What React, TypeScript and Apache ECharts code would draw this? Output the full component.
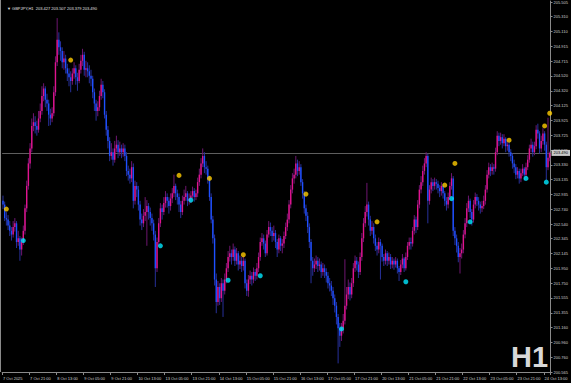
import React, { useEffect, useRef } from "react";
import * as echarts from "echarts";

// GBPJPY H1 bars (7 Oct 2025 05:00 .. 24 Oct 2025 16:00)
const firstOpen = 202.85;
const closes = [
  202.80,202.62,202.60,202.52,202.45,202.40,202.50,202.55,202.30,202.35,
  202.20,202.30,202.45,202.75,203.05,203.35,203.55,203.85,203.90,203.85,
  203.80,203.95,204.05,204.25,204.35,204.20,204.15,204.00,203.95,204.02,
  204.30,204.70,205.00,204.90,204.85,204.70,204.75,204.62,204.55,204.50,
  204.45,204.55,204.62,204.50,204.45,204.60,204.72,204.80,204.60,204.62,
  204.58,204.52,204.48,204.30,204.15,204.05,204.10,204.25,204.40,204.30,
  204.00,203.80,203.65,203.45,203.50,203.40,203.55,203.60,203.50,203.55,
  203.50,203.55,203.45,203.25,203.20,203.15,203.30,202.85,203.05,203.00,
  202.80,202.60,202.55,202.65,202.70,202.78,202.70,202.62,202.55,202.40,
  201.95,202.30,202.55,202.75,202.70,202.82,202.90,202.85,202.78,202.88,
  202.95,203.05,202.95,202.90,202.80,202.70,202.85,202.90,202.95,202.85,
  202.88,202.92,202.98,202.90,202.95,203.10,203.20,203.35,203.45,203.30,
  203.28,203.15,202.90,202.60,202.35,201.80,201.50,201.70,201.55,201.75,
  201.65,201.80,201.95,202.10,202.15,202.10,202.20,202.05,202.15,202.00,
  202.05,201.98,202.05,201.75,201.65,201.80,201.85,201.80,201.90,201.85,
  201.95,202.10,202.30,202.35,202.28,202.15,202.40,202.50,202.45,202.38,
  202.42,202.30,202.20,202.35,202.25,202.28,202.38,202.50,202.60,202.80,
  203.00,203.15,203.20,203.35,203.25,203.30,203.10,202.95,202.75,202.65,
  202.50,202.30,202.05,201.95,202.00,202.05,201.98,202.00,201.90,201.95,
  201.90,201.85,201.75,201.72,201.65,201.55,201.45,201.30,201.15,201.05,
  201.15,201.25,201.45,201.60,201.70,201.60,201.75,201.95,202.05,202.00,
  201.90,202.10,202.35,202.55,202.70,202.80,202.60,202.45,202.50,202.35,
  202.25,202.20,202.30,202.25,202.10,202.05,202.15,202.05,202.10,202.00,
  202.05,202.00,202.05,201.95,201.90,202.00,202.08,201.95,202.10,202.25,
  202.30,202.28,202.45,202.60,202.50,202.80,203.00,203.10,203.25,203.35,
  203.45,202.85,203.00,203.10,203.05,203.10,203.08,203.02,202.98,203.05,
  202.95,202.85,202.80,202.90,203.05,203.15,202.45,202.35,202.25,202.10,
  202.15,202.20,202.40,202.55,202.75,202.85,202.70,202.60,202.80,202.90,
  202.85,202.80,202.75,202.78,202.85,203.00,203.20,203.30,203.25,203.30,
  203.28,203.50,203.72,203.65,203.70,203.62,203.68,203.58,203.60,203.50,
  203.45,203.35,203.30,203.20,203.25,203.15,203.22,203.28,203.20,203.30,
  203.40,203.55,203.60,203.50,203.58,203.80,203.75,203.55,203.65,203.75,
  203.60,203.30,203.427,203.49,
];
const highs = [
  202.92,202.84,202.70,202.66,202.58,202.50,202.58,202.62,202.58,202.45,
  202.38,202.36,202.52,202.80,203.12,203.42,203.62,203.95,204.02,203.98,
  203.92,204.05,204.15,204.38,204.42,204.38,204.28,204.20,204.08,204.10,
  204.38,204.78,205.29,205.10,204.98,204.90,204.85,204.80,204.68,204.62,
  204.58,204.62,204.70,204.66,204.56,204.68,204.80,204.88,204.84,204.72,
  204.70,204.66,204.60,204.52,204.35,204.20,204.18,204.32,204.48,204.45,
  204.34,204.05,203.85,203.70,203.62,203.55,203.65,203.72,203.66,203.64,
  203.60,203.62,203.60,203.50,203.32,203.28,203.38,203.35,203.12,203.10,
  203.05,202.85,202.68,202.74,202.90,202.86,202.82,202.76,202.68,202.60,
  202.45,202.36,202.62,202.82,202.80,202.90,202.98,202.95,202.90,202.95,
  203.02,203.20,203.08,203.00,202.95,202.85,202.92,203.00,203.05,202.98,
  202.95,202.98,203.04,203.02,203.00,203.16,203.28,203.42,203.55,203.50,
  203.38,203.32,203.18,202.95,202.65,202.40,201.88,201.78,201.75,201.82,
  201.80,201.88,202.02,202.18,202.25,202.20,202.28,202.24,202.22,202.18,
  202.12,202.10,202.12,202.08,201.80,201.86,201.92,201.90,201.96,201.94,
  202.02,202.16,202.36,202.42,202.40,202.32,202.46,202.58,202.56,202.50,
  202.52,202.46,202.34,202.40,202.38,202.34,202.44,202.56,202.68,202.86,
  203.06,203.22,203.28,203.45,203.40,203.38,203.34,203.14,202.98,202.80,
  202.70,202.55,202.34,202.10,202.08,202.12,202.10,202.08,202.04,202.02,
  202.00,201.95,201.90,201.82,201.78,201.70,201.60,201.50,201.34,201.22,
  201.22,201.34,202.07,201.70,201.80,201.76,201.82,202.02,202.12,202.10,
  202.04,202.16,202.42,202.62,202.78,203.09,202.84,202.65,202.58,202.55,
  202.40,202.30,202.36,202.34,202.28,202.14,202.20,202.18,202.16,202.14,
  202.10,202.08,202.10,202.08,201.98,202.06,202.14,202.10,202.16,202.30,
  202.36,202.36,202.50,202.66,202.64,202.86,203.06,203.18,203.32,203.42,
  203.50,203.48,203.06,203.16,203.14,203.16,203.14,203.12,203.06,203.10,
  203.08,202.98,202.90,202.96,203.10,203.22,203.18,202.50,202.40,202.30,
  202.22,202.28,202.46,202.62,202.82,202.92,202.88,202.74,202.86,202.96,
  202.94,202.90,202.84,202.85,202.92,203.06,203.26,203.36,203.34,203.36,
  203.34,203.56,203.78,203.76,203.76,203.74,203.74,203.70,203.66,203.64,
  203.54,203.48,203.40,203.34,203.30,203.28,203.28,203.34,203.30,203.36,
  203.46,203.60,203.68,203.64,203.64,203.86,203.88,203.78,203.72,203.82,
  203.78,203.64,203.96,203.507,
];
const lows = [
  202.74,202.58,202.52,202.46,202.38,202.32,202.36,202.44,202.22,202.25,
  202.05,202.12,202.26,202.40,202.70,203.00,203.28,203.50,203.78,203.75,
  203.72,203.76,203.90,204.00,204.18,204.10,204.05,203.85,203.86,203.90,
  203.98,204.25,204.65,204.80,204.72,204.62,204.60,204.55,204.45,204.38,
  204.30,204.40,204.48,204.40,204.32,204.42,204.55,204.65,204.52,204.50,
  204.50,204.42,204.38,204.22,204.05,203.92,203.98,204.05,204.20,204.22,
  203.95,203.72,203.55,203.38,203.40,203.32,203.36,203.50,203.42,203.45,
  203.42,203.44,203.38,203.18,203.12,203.08,203.10,202.75,202.80,202.90,
  202.72,202.52,202.46,202.50,202.58,202.25,202.60,202.52,202.45,202.32,
  201.70,201.90,202.25,202.50,202.60,202.66,202.76,202.76,202.68,202.72,
  202.82,202.90,202.86,202.80,202.70,202.62,202.66,202.80,202.85,202.78,
  202.80,202.82,202.88,202.84,202.86,202.90,203.05,203.15,203.30,203.22,
  203.20,203.08,202.85,202.55,202.28,201.72,201.35,201.45,201.46,201.50,
  201.30,201.60,201.75,201.90,202.04,202.00,202.05,201.98,202.00,201.92,
  201.94,201.90,201.92,201.68,201.58,201.57,201.74,201.72,201.75,201.78,
  201.80,201.90,202.05,202.25,202.20,202.10,202.12,202.36,202.38,202.30,
  202.32,202.22,202.10,202.15,202.18,202.15,202.22,202.34,202.45,202.55,
  202.75,202.95,203.08,203.15,203.18,203.20,203.05,202.88,202.68,202.58,
  202.42,202.22,201.75,201.85,201.90,201.94,201.90,201.92,201.82,201.85,
  201.82,201.76,201.68,201.64,201.58,201.46,201.36,201.20,200.68,200.90,
  200.98,201.08,201.20,201.40,201.54,201.52,201.55,201.70,201.90,201.92,
  201.82,201.86,202.05,202.30,202.50,202.64,202.52,202.38,202.40,202.28,
  202.18,202.12,202.15,201.80,202.04,201.98,202.00,201.98,202.00,201.94,
  201.95,201.93,201.96,201.88,201.78,201.86,201.95,201.90,201.92,202.06,
  202.20,202.20,202.24,202.40,202.42,202.46,202.75,202.95,203.05,203.20,
  203.30,202.55,202.80,202.95,202.98,203.00,203.00,202.95,202.90,202.92,
  202.88,202.78,202.72,202.75,202.86,203.00,202.38,202.26,202.16,202.03,
  201.88,202.08,202.15,202.35,202.50,202.70,202.62,202.52,202.56,202.75,
  202.78,202.72,202.68,202.70,202.74,202.80,202.96,203.15,203.18,203.20,
  203.20,203.24,203.46,203.58,203.60,203.55,203.58,203.50,203.52,203.44,
  203.38,203.28,203.22,203.14,203.15,203.08,203.10,203.18,203.12,203.16,
  203.26,203.36,203.50,203.44,203.46,203.54,203.68,203.48,203.50,203.60,
  203.52,203.13,203.26,203.379,
];

// indicator dots: [bar index, price]
const yellowIdx = [2, 40, 104, 122, 142, 179, 221, 261, 267, 299, 320, 323];
const yellowVal = [202.74, 204.73, 203.19, 203.15, 202.13, 202.94, 202.57, 203.06, 203.35, 203.66, 203.85, 204.02];
const cyanIdx = [12, 93, 111, 133, 152, 200, 238, 265, 276, 309, 321];
const cyanVal = [202.32, 202.25, 202.86, 201.79, 201.85, 201.14, 201.77, 202.88, 202.57, 203.15, 203.10];

const timeLabels = [
  "7 Oct 2025", "7 Oct 21:00", "8 Oct 13:00", "9 Oct 05:00", "9 Oct 21:00",
  "10 Oct 13:00", "13 Oct 05:00", "13 Oct 21:00", "14 Oct 13:00", "15 Oct 05:00",
  "15 Oct 21:00", "16 Oct 13:00", "17 Oct 05:00", "17 Oct 21:00", "20 Oct 13:00",
  "21 Oct 05:00", "21 Oct 21:00", "22 Oct 13:00", "23 Oct 05:00", "23 Oct 21:00",
  "24 Oct 13:00",
];
const barsPerLabel = 16;
const priceLabels = [
  "205.505", "205.310", "205.110", "204.915", "204.715", "204.520", "204.320",
  "204.125", "203.925", "203.725", "203.525", "203.330", "203.135", "202.935",
  "202.740", "202.540", "202.345", "202.145", "201.950", "201.750", "201.555",
  "201.355", "201.160", "200.960", "200.760", "200.565",
];
const bidPrice = 203.49;
const headerText = "\u25BC GBPJPY,H1  203.427 203.507 203.379 203.490";

const UP = "#e0148e";
const DOWN = "#1e50ff";
const UP_WICK = "#6e1670";
const DOWN_WICK = "#27309a";

export default function App() {
  const ref = useRef<HTMLDivElement>(null);
  useEffect(() => {
    if (!ref.current) return;
    const chart = echarts.init(ref.current, undefined, { renderer: "svg" });
    const cats = closes.map((_, i) => String(i));
    const ohlc = closes.map((c, i) => [i, i === 0 ? firstOpen : closes[i - 1], c, lows[i], highs[i]]);
    const priceValues = priceLabels.map(Number);
    const small = { fontSize: 4, fontFamily: "Liberation Sans", color: "#d0d0d0" };

    chart.setOption({
      animation: false,
      backgroundColor: "#000000",
      title: {
        text: headerText,
        left: 2,
        top: 1,
        textStyle: { ...small, fontWeight: "normal", color: "#e0e0e0" },
      },
      grid: { left: 0, right: 19, top: 0, bottom: 11, containLabel: false },
      xAxis: {
        type: "category",
        data: cats,
        boundaryGap: true,
        axisLine: { show: true, lineStyle: { color: "#8a8a8a", width: 1 } },
        axisTick: { show: true, interval: barsPerLabel - 1, length: 3, lineStyle: { color: "#8a8a8a" } },
        axisLabel: {
          show: true,
          interval: barsPerLabel - 1,
          align: "left",
          margin: 4,
          ...small,
          formatter: (_v: string, idx: number) =>
            idx % barsPerLabel === 0 ? timeLabels[idx / barsPerLabel] ?? "" : "",
        },
        splitLine: { show: false },
      },
      yAxis: {
        type: "value",
        position: "right",
        min: 200.565,
        max: 205.518,
        scale: true,
        axisLine: { show: true, lineStyle: { color: "#8a8a8a", width: 1 } },
        axisTick: { show: true, length: 2, customValues: priceValues, lineStyle: { color: "#8a8a8a" } },
        axisLabel: {
          show: true,
          margin: 3,
          customValues: priceValues,
          ...small,
          formatter: (v: number) => v.toFixed(3),
        },
        splitLine: { show: false },
      },
      graphic: [
        {
          type: "line",
          shape: { x1: 0.5, y1: 0, x2: 0.5, y2: 372 },
          style: { stroke: "#8a8a8a", lineWidth: 1 },
        },
        {
          type: "text",
          x: 511,
          y: 357,
          style: {
            text: "H1",
            fontSize: 29,
            fontWeight: "bold",
            fontFamily: "Liberation Sans",
            fill: "#d8d8d8",
            textAlign: "left",
            textVerticalAlign: "middle",
          },
          z: 100,
        },
      ],
      series: [
        {
          type: "custom",
          data: ohlc,
          encode: { x: 0, y: [1, 2, 3, 4] },
          clip: true,
          renderItem: (_params: any, api: any) => {
            const i = api.value(0);
            const o = api.value(1);
            const c = api.value(2);
            const l = api.value(3);
            const h = api.value(4);
            const pH = api.coord([i, h]);
            const pL = api.coord([i, l]);
            const pO = api.coord([i, o]);
            const pC = api.coord([i, c]);
            const up = c >= o;
            const x = pH[0];
            let y1 = pO[1];
            let y2 = pC[1];
            if (Math.abs(y2 - y1) < 1) y2 = y1 + (up ? -1 : 1);
            return {
              type: "group",
              children: [
                {
                  type: "line",
                  shape: { x1: x, y1: pH[1], x2: x, y2: pL[1] },
                  style: { stroke: up ? UP_WICK : DOWN_WICK, lineWidth: 1 },
                },
                {
                  type: "line",
                  shape: { x1: x, y1, x2: x, y2 },
                  style: { stroke: up ? UP : DOWN, lineWidth: 1.4 },
                },
              ],
            };
          },
          z: 2,
        },
        {
          type: "scatter",
          data: yellowIdx.map((ix, k) => [ix, yellowVal[k]]),
          symbol: "circle",
          symbolSize: 5,
          itemStyle: { color: "#ffcc00" },
          z: 3,
          markLine: {
            silent: true,
            symbol: ["none", "none"],
            z: 1,
            data: [{ yAxis: bidPrice }],
            lineStyle: { color: "#5e5e5e", width: 1, type: "solid" },
            label: {
              show: true,
              position: "end",
              distance: 1,
              formatter: bidPrice.toFixed(3),
              fontSize: 4,
              fontFamily: "Liberation Sans",
              color: "#000000",
              backgroundColor: "#c8c8c8",
              padding: [1, 2],
            },
          },
        },
        {
          type: "scatter",
          data: cyanIdx.map((ix, k) => [ix, cyanVal[k]]),
          symbol: "circle",
          symbolSize: 5,
          itemStyle: { color: "#00e8ff" },
          z: 3,
        },
      ],
    });
    return () => chart.dispose();
  }, []);
  return (
    <div
      ref={ref}
      style={{ position: "fixed", left: 0, top: 0, width: 571, height: 383, background: "#000" }}
    />
  );
}
